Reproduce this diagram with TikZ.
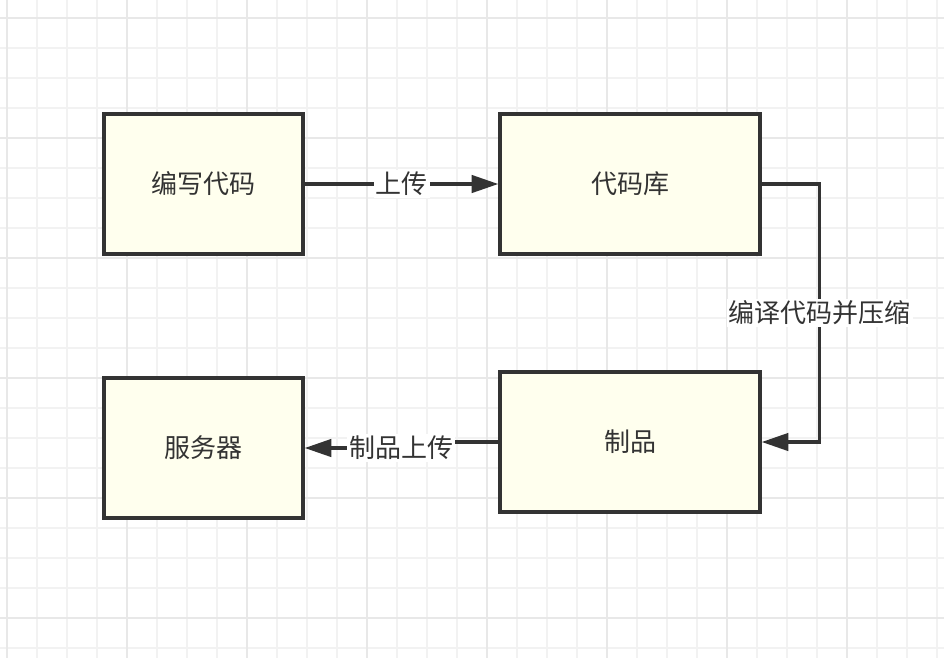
\documentclass[tikz,border=0pt]{standalone}
\usepackage{fontspec}
\setmainfont{Noto Sans CJK SC}
\usetikzlibrary{arrows.meta}
\definecolor{boxfill}{HTML}{FFFFEE}
\definecolor{ink}{HTML}{333333}
\definecolor{gridminor}{HTML}{F2F2F2}
\definecolor{gridmajor}{HTML}{E8E8E8}
\begin{document}
\begin{tikzpicture}[x=0.75pt, y=-0.75pt,
    stage/.style={draw=ink, fill=boxfill, line width=2.5pt, minimum height=105pt,
        text=ink, font=\fontsize{19.5}{22}\selectfont},
    flow/.style={draw=ink, line width=2.5pt, -{Triangle[length=20pt,width=13pt]}},
    tag/.style={fill=white, text=ink, inner sep=1.5pt, font=\fontsize{19.5}{22}\selectfont}]
            \useasboundingbox (0,0) rectangle (944,658);
            \fill[white] (0,0) rectangle (944,658);
            % grid
            \foreach \i in {0,...,31} {
                \draw[gridminor, line width=1.2pt] ({7+30*\i},0) -- ({7+30*\i},658);
            }
            \foreach \j in {0,...,21} {
                \draw[gridminor, line width=1.2pt] (0,{18+30*\j}) -- (944,{18+30*\j});
            }
            \foreach \i in {0,...,7} {
                \draw[gridmajor, line width=1.2pt] ({7+120*\i},0) -- ({7+120*\i},658);
            }
            \foreach \j in {0,...,5} {
                \draw[gridmajor, line width=1.2pt] (0,{18+120*\j}) -- (944,{18+120*\j});
            }
            % boxes
            \node[stage, minimum width=149.25pt] (code) at (203.5,184) {编写代码};
            \node[stage, minimum width=195pt] (repo) at (630,184) {代码库};
            \node[stage, minimum width=195pt] (pkg) at (630,442) {制品};
            \node[stage, minimum width=149.25pt] (srv) at (203.5,448) {服务器};
            % connectors
            \draw[flow] (code) -- node[tag] {上传} (repo);
            \draw[flow] (repo.east) -- ++(58,0) |- node[tag, pos=0.25] {编译代码并压缩} (pkg.east);
            \draw[flow] (pkg.west) -- ++(-97,0) |- node[tag, pos=0.5] {制品上传} (srv.east);
        \end{tikzpicture}
\end{document}
